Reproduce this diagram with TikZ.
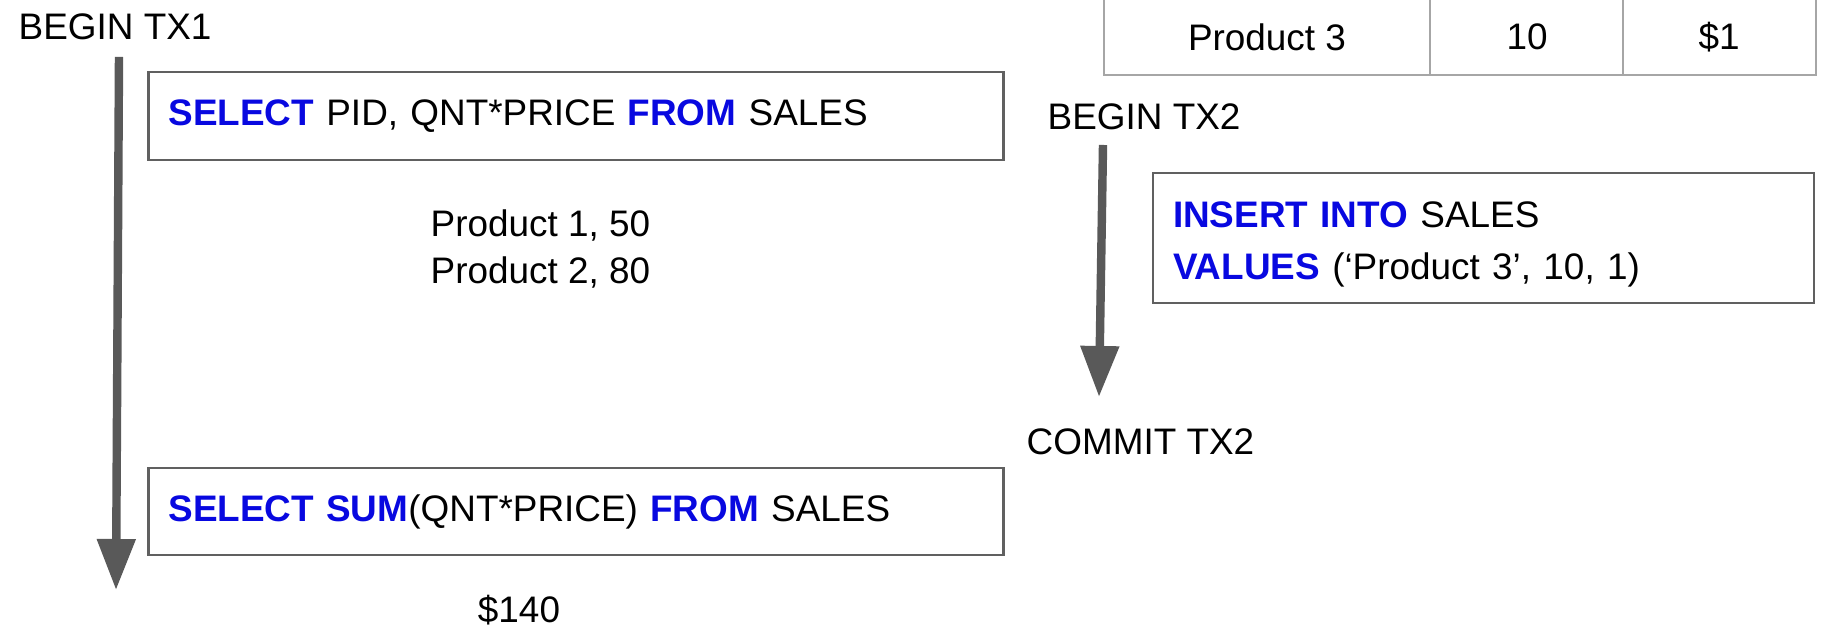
\documentclass[tikz,border=0pt]{standalone}
\usepackage{fontspec}
\setmainfont{Liberation Sans}
\usetikzlibrary{arrows.meta}
\definecolor{sqlblue}{RGB}{8,8,224}
\definecolor{linegray}{RGB}{89,89,89}
\definecolor{boxgray}{RGB}{96,96,96}
\definecolor{tablegray}{RGB}{166,166,166}
\newcommand{\kw}[1]{\textcolor{sqlblue}{\textbf{#1}}}
\tikzset{
	qbox/.style={draw=boxgray, line width=0.6pt, inner xsep=0.2cm, inner ysep=0pt, align=left},
	txarrow/.style={draw=linegray, line width=2.4pt, -{Triangle[length=0.51cm, width=0.37cm]}},
	plain/.style={inner sep=0pt},
	tline/.style={draw=tablegray, line width=0.8pt}
}
\begin{document}
\begin{tikzpicture}[font=\fontsize{10.5}{14.7}\selectfont]
				\useasboundingbox (0,0) rectangle (18.22,6.39);
				\coordinate (S1) at (1.19,5.82);
				\coordinate (E1) at (1.16,0.49);
				\coordinate (S2) at (11.03,4.94);
				\coordinate (E2) at (10.99,2.42);
				\coordinate (A1) at (11.04,6.5);
				\coordinate (A2) at (14.30,6.5);
				\coordinate (A3) at (16.23,6.5);
				\coordinate (A4) at (18.16,6.5);
				\coordinate (B1) at (11.04,5.64);
				\coordinate (B2) at (14.30,5.64);
				\coordinate (B3) at (16.23,5.64);
				\coordinate (B4) at (18.16,5.64);
				\draw[tline] (A1) -- (B1) -- (B4) -- (A4);
				\draw[tline] (A2) -- (B2);
				\draw[tline] (A3) -- (B3);
				\node[plain] (cellprod) at (12.67,6.02) {Product 3};
				\node[plain] (cellqnt) at (15.27,6.02) {10};
				\node[plain] (cellprice) at (17.19,6.02) {\$1};
				\node[plain, anchor=west] (begintx1) at (0.18,6.12) {BEGIN TX1};
				\node[qbox, text width=8.15cm, minimum height=0.88cm] (selpid) at (5.76,5.23) {\kw{SELECT} PID, QNT*PRICE \kw{FROM} SALES};
				\node[plain, anchor=west, align=left, font=\fontsize{10.5}{13.3}\selectfont] (products) at (4.30,3.90) {Product 1, 50\\Product 2, 80};
				\node[plain, anchor=west] (begintx2) at (10.47,5.22) {BEGIN TX2};
				\node[qbox, text width=6.21cm, minimum height=1.30cm] (insert) at (14.835,4.01) {\rule{0pt}{10.9pt}\kw{INSERT INTO} SALES\\\kw{VALUES} (‘Product 3’, 10, 1)};
				\node[plain, anchor=west] (committx2) at (10.26,1.97) {COMMIT TX2};
				\node[qbox, text width=8.15cm, minimum height=0.87cm] (selsum) at (5.76,1.275) {\kw{SELECT SUM}(QNT*PRICE) \kw{FROM} SALES};
				\node[plain] (total) at (5.19,0.29) {\$140};
				\draw[txarrow] (S1) -- (E1);
				\draw[txarrow] (S2) -- (E2);
\end{tikzpicture}
\end{document}
